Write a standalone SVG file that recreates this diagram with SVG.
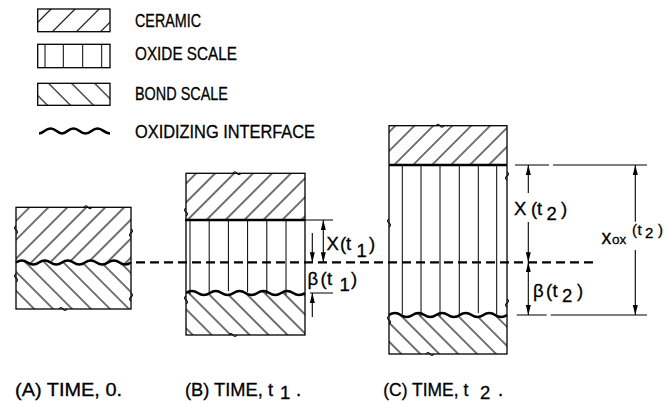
<svg xmlns="http://www.w3.org/2000/svg" width="669" height="403" viewBox="0 0 669 403">
<style>
.t{font-family:"Liberation Sans",Arial,sans-serif;font-size:18.5px;fill:#000;stroke:#000;stroke-width:0.3}
.box{fill:none;stroke:#000;stroke-width:1.3}
.thin{stroke:#000;stroke-width:1;fill:none}
.wave{fill:none;stroke:#000;stroke-width:2.6;stroke-linejoin:round}
.thick{stroke:#000;stroke-width:2.6}
.brk{fill:none;stroke:#000;stroke-width:1.1}
.dim{stroke:#000;stroke-width:1.1;fill:none}
.arr{marker-end:url(#ah)}
.arr2{marker-start:url(#ah);marker-end:url(#ah)}
.dash{stroke:#000;stroke-width:2.2;stroke-dasharray:9 5;fill:none}
</style>
<defs>
<pattern id="hatchC" patternUnits="userSpaceOnUse" width="13.4" height="13.4" patternTransform="rotate(45)"><line x1="6.7" y1="-1" x2="6.7" y2="14.4" stroke="#000" stroke-width="1.1"/></pattern>
<pattern id="hatchB" patternUnits="userSpaceOnUse" width="13.4" height="13.4" patternTransform="rotate(-45)"><line x1="6.7" y1="-1" x2="6.7" y2="14.4" stroke="#000" stroke-width="1.1"/></pattern>
<pattern id="hatchCL" patternUnits="userSpaceOnUse" width="17" height="17" patternTransform="rotate(45)"><line x1="8.5" y1="-1" x2="8.5" y2="18" stroke="#000" stroke-width="1.1"/></pattern>
<pattern id="hatchBL" patternUnits="userSpaceOnUse" width="16.3" height="16.3" patternTransform="rotate(-45)"><line x1="8" y1="-1" x2="8" y2="17.3" stroke="#000" stroke-width="1.1"/></pattern>
<marker id="ah" markerUnits="userSpaceOnUse" markerWidth="10" markerHeight="6" refX="10" refY="3" orient="auto-start-reverse"><path d="M0,0.5 L10,3 L0,5.5 Z" fill="#000"/></marker>
<clipPath id="oxB"><path d="M186,220 H305 V293 Q299,289 293.1,293 T281.2,293 T269.3,293 T257.4,293 T245.5,293 T233.6,293 T221.7,293 T209.8,293 T197.9,293 T186,293 Z"/></clipPath>
<clipPath id="oxC"><path d="M389,165 H507 V315 Q501.1,311 495.2,315 T483.4,315 T471.6,315 T459.8,315 T448,315 T436.2,315 T424.4,315 T412.6,315 T400.8,315 T389,315 Z"/></clipPath>
</defs>

<g id="legend-ceramic">
<rect x="37.7" y="9" width="72.3" height="22.7" fill="url(#hatchCL)"/>
<rect x="37.7" y="9" width="72.3" height="22.7" class="box"/>
<text class="t" x="135" y="26.7" textLength="66" lengthAdjust="spacingAndGlyphs">CERAMIC</text>
</g>
<g id="legend-oxide">
<rect x="37.7" y="44.3" width="72.3" height="23.4" class="box"/>
<path class="thin" d="M45,44.3 V67.7 M63.3,44.3 V67.7 M82.7,44.3 V67.7 M101.7,44.3 V67.7"/>
<text class="t" x="135" y="60.3" textLength="102" lengthAdjust="spacingAndGlyphs">OXIDE SCALE</text>
</g>
<g id="legend-bond">
<rect x="37.7" y="83.3" width="72.3" height="22" fill="url(#hatchBL)"/>
<rect x="37.7" y="83.3" width="72.3" height="22" class="box"/>
<text class="t" x="135" y="100" textLength="93" lengthAdjust="spacingAndGlyphs">BOND SCALE</text>
</g>
<g id="legend-interface">
<path class="wave" stroke-width="2.8" d="M39,133.5 C44,133.5 45,128.5 50.5,128.5 C56,128.5 57,133.5 62,133.5 C67,133.5 68,128.5 73.5,128.5 C79,128.5 80,133.5 85.5,133.5 C91,133.5 92,128.5 97.5,128.5 C103,128.5 104,133.5 110,133.5"/>
<text class="t" x="135" y="138.3" textLength="180" lengthAdjust="spacingAndGlyphs">OXIDIZING INTERFACE</text>
</g>

<g id="panel-a">
<path fill="url(#hatchC)" d="M16,262.5 Q21.75,258.5 27.5,262.5 T39,262.5 T50.5,262.5 T62,262.5 T73.5,262.5 T85,262.5 T96.5,262.5 T108,262.5 T119.5,262.5 T131,262.5 V207.3 H16 Z"/>
<path fill="url(#hatchB)" d="M16,262.5 Q21.75,258.5 27.5,262.5 T39,262.5 T50.5,262.5 T62,262.5 T73.5,262.5 T85,262.5 T96.5,262.5 T108,262.5 T119.5,262.5 T131,262.5 V309 H16 Z"/>
<path class="wave" d="M16,262.5 Q21.75,258.5 27.5,262.5 T39,262.5 T50.5,262.5 T62,262.5 T73.5,262.5 T85,262.5 T96.5,262.5 T108,262.5 T119.5,262.5 T131,262.5"/>
<rect x="16" y="207.3" width="115" height="101.7" class="box"/>
<path class="brk" d="M84,207.3 q2,-3 4,0 q2,3 4,0 M59,309 q2,-3 4,0 q2,3 4,0 M16,226 q-3,2 0,4 q3,2 0,4 M16,274 q-3,2 0,4 q3,2 0,4 M131,229 q3,2 0,4 q-3,2 0,4 M131,293 q3,2 0,4 q-3,2 0,4"/>
<text class="t" x="15" y="396" textLength="107" lengthAdjust="spacingAndGlyphs">(A) TIME, 0.</text>
</g>

<g id="panel-b">
<rect x="186" y="173.3" width="119" height="46.7" fill="url(#hatchC)"/>
<g clip-path="url(#oxB)"><path class="thin" d="M190,220 V300 M209.2,220 V300 M228.4,220 V300 M247.6,220 V300 M266.8,220 V300 M286,220 V300"/></g>
<path fill="url(#hatchB)" d="M186,293 Q191.95,289 197.9,293 T209.8,293 T221.7,293 T233.6,293 T245.5,293 T257.4,293 T269.3,293 T281.2,293 T293.1,293 T305,293 V335 H186 Z"/>
<path class="wave" d="M186,293 Q191.95,289 197.9,293 T209.8,293 T221.7,293 T233.6,293 T245.5,293 T257.4,293 T269.3,293 T281.2,293 T293.1,293 T305,293"/>
<line class="thick" x1="185" y1="220" x2="305" y2="220"/>
<rect x="186" y="173.3" width="119" height="161.7" class="box"/>
<path class="brk" d="M233,173.3 q2,-3 4,0 q2,3 4,0 M229,335 q2,-3 4,0 q2,3 4,0 M186,208 q-3,2 0,4 q3,2 0,4 M186,296 q-3,2 0,4 q3,2 0,4"/>
<text class="t" x="185" y="396" textLength="88" lengthAdjust="spacingAndGlyphs">(B) TIME, t</text>
<text class="t" x="280" y="398.5" font-size="17">1</text>
<text class="t" x="296" y="396">.</text>
</g>

<g id="panel-c">
<rect x="389" y="125.7" width="118" height="39.3" fill="url(#hatchC)"/>
<g clip-path="url(#oxC)"><path class="thin" d="M402.3,165 V322 M421,165 V322 M440,165 V322 M459.3,165 V322 M478.3,165 V322 M496.7,165 V322"/></g>
<path fill="url(#hatchB)" d="M389,315 Q394.9,311 400.8,315 T412.6,315 T424.4,315 T436.2,315 T448,315 T459.8,315 T471.6,315 T483.4,315 T495.2,315 T507,315 V354 H389 Z"/>
<path class="wave" d="M389,315 Q394.9,311 400.8,315 T412.6,315 T424.4,315 T436.2,315 T448,315 T459.8,315 T471.6,315 T483.4,315 T495.2,315 T507,315"/>
<line class="thick" x1="389" y1="165" x2="507" y2="165"/>
<rect x="389" y="125.7" width="118" height="228.3" class="box"/>
<path class="brk" d="M436,125.7 q2,-3 4,0 q2,3 4,0 M426,354 q2,-3 4,0 q2,3 4,0 M389,219 q-3,2 0,4 q3,2 0,4 M389,316 q-3,2 0,4 q3,2 0,4 M507,172 q3,2 0,4 q-3,2 0,4 M507,299 q3,2 0,4 q-3,2 0,4"/>
<text class="t" x="383.3" y="396" textLength="85" lengthAdjust="spacingAndGlyphs">(C) TIME, t</text>
<text class="t" x="480" y="398.5" font-size="17">2</text>
<text class="t" x="498" y="396">.</text>
</g>

<g id="connectors">
<line class="dash" x1="136" y1="262.3" x2="594" y2="262.3"/>
<path class="dim" d="M305,220 H333 M310,293 H333"/>
<path class="dim arr2" d="M323.3,220 V262.3"/>
<path class="dim arr" d="M312.3,233 V262.3"/>
<path class="dim arr" d="M312.3,317 V293"/>
<path class="dim" d="M515,165 H549 M553,165 H647 M516.7,315 H546.7 M550.7,315 H647"/>
<path class="dim arr" d="M528.3,193 V165"/>
<path class="dim arr" d="M528.3,222 V262.3"/>
<path class="dim arr2" d="M528.3,262.3 V315"/>
<path class="dim arr" d="M635.3,221.7 V165"/>
<path class="dim arr" d="M635.3,250 V315"/>
</g>

<g id="labels">
<text class="t"><tspan x="326.5" y="250">X</tspan><tspan x="340" y="250">(</tspan><tspan x="346" y="250">t</tspan><tspan x="356.5" y="257">1</tspan><tspan x="369" y="250">)</tspan></text>
<text class="t"><tspan x="307.5" y="285">β</tspan><tspan x="320.5" y="285">(</tspan><tspan x="327" y="285">t</tspan><tspan x="339.5" y="291">1</tspan><tspan x="351" y="285">)</tspan></text>
<text class="t"><tspan x="514" y="215">X</tspan><tspan x="531" y="215">(</tspan><tspan x="537" y="215">t</tspan><tspan x="546.5" y="219.5">2</tspan><tspan x="561" y="215">)</tspan></text>
<text class="t"><tspan x="533" y="296.7">β</tspan><tspan x="546" y="296.7">(</tspan><tspan x="552.5" y="296.7">t</tspan><tspan x="562" y="301.7">2</tspan><tspan x="577" y="296.7">)</tspan></text>
<text class="t"><tspan x="601.5" y="244" font-size="19.5">x</tspan><tspan x="612" y="244" font-size="13.5">ox</tspan><tspan x="632" y="234.5" font-size="15">(</tspan><tspan x="637.5" y="234.5" font-size="15">t</tspan><tspan x="645" y="237.5" font-size="15">2</tspan><tspan x="658" y="234.5" font-size="15">)</tspan></text>
</g>
</svg>
